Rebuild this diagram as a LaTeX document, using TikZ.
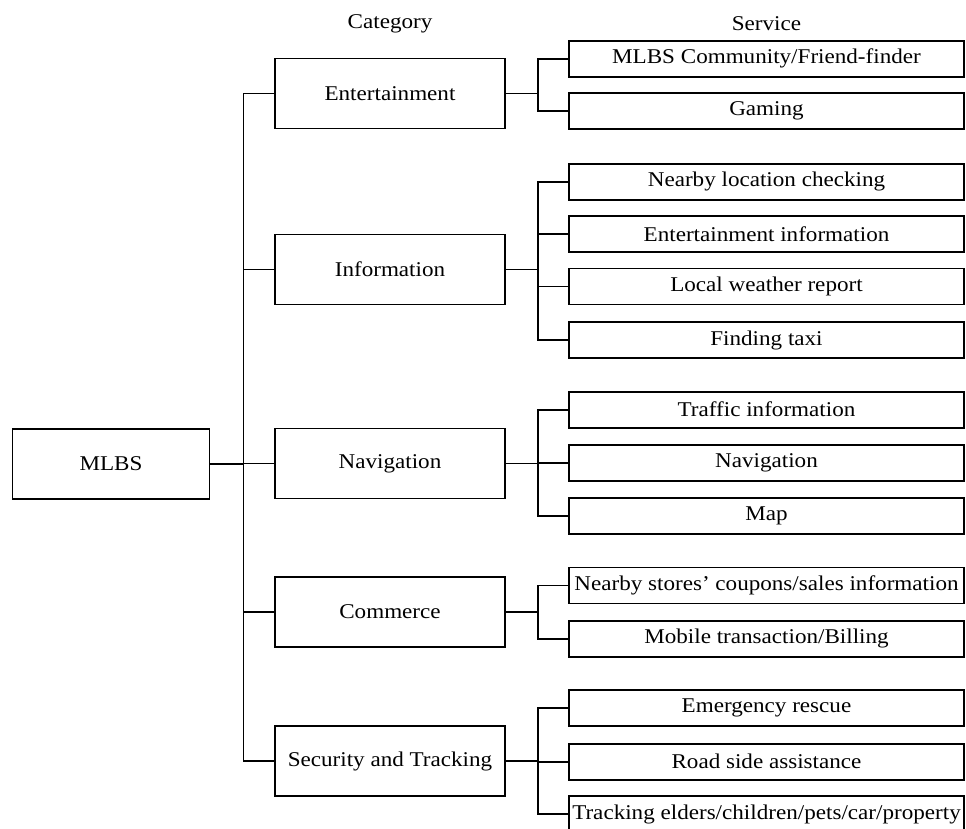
\documentclass[tikz,border=0pt]{standalone}
\usepackage{fontspec}
\setmainfont{Liberation Serif}[FakeStretch=1.1]
\begin{document}
\begin{tikzpicture}[x=1pt,y=-1pt,
  every node/.style={font=\fontsize{21}{24}\selectfont},
  box/.style={draw, line width=1.8pt, inner sep=0pt, fill=white},
  catbox/.style={box, minimum width=230pt, minimum height=70pt},
  svcbox/.style={box, minimum width=395pt, minimum height=36pt},
  conn/.style={line width=1.8pt}]
\clip (0,0) rectangle (966,828);
\fill[white] (0,0) rectangle (966,828);
% headers
\node (hcat) at (390,24) {Category};
\node (hsvc) at (766.5,24) {Service};
% root
\node[box, minimum width=197pt, minimum height=70pt] (mlbs) at (111,464) {MLBS};
% categories
\node[catbox] (ent) at (390,93.5) {Entertainment};
\node[catbox] (info) at (390,269.5) {Information};
\node[catbox] (nav) at (390,463.5) {Navigation};
\node[catbox] (com) at (390,612) {Commerce};
\node[catbox] (sec) at (390,761) {Security and Tracking};
% services
\node[svcbox] (s1) at (766.5,58.7) {MLBS Community/Friend-finder};
\node[svcbox] (s2) at (766.5,111) {Gaming};
\node[svcbox] (s3) at (766.5,181.7) {Nearby location checking};
\node[svcbox] (s4) at (766.5,234) {Entertainment information};
\node[svcbox] (s5) at (766.5,286.5) {Local weather report};
\node[svcbox] (s6) at (766.5,340.3) {Finding taxi};
\node[svcbox] (s7) at (766.5,409.7) {Traffic information};
\node[svcbox] (s8) at (766.5,463) {Navigation};
\node[svcbox] (s9) at (766.5,515.7) {Map};
\node[svcbox] (s10) at (766.5,585.5) {Nearby stores' coupons/sales information};
\node[svcbox] (s11) at (766.5,638.7) {Mobile transaction/Billing};
\node[svcbox] (s12) at (766.5,708.3) {Emergency rescue};
\node[svcbox] (s13) at (766.5,761.7) {Road side assistance};
\node[svcbox] (s14) at (766.5,814) {Tracking elders/children/pets/car/property};
% trunk
\foreach \c in {ent,info,nav,com,sec}
  \draw[conn] (mlbs.east) -- ++(33,0) |- (\c.west);
% branches
\foreach \c/\s in {ent/s1,ent/s2,info/s3,info/s4,info/s5,info/s6,nav/s7,nav/s8,nav/s9,com/s10,com/s11,sec/s12,sec/s13,sec/s14}
  \draw[conn] (\c.east) -- ++(32,0) |- (\s.west);
\end{tikzpicture}
\end{document}
